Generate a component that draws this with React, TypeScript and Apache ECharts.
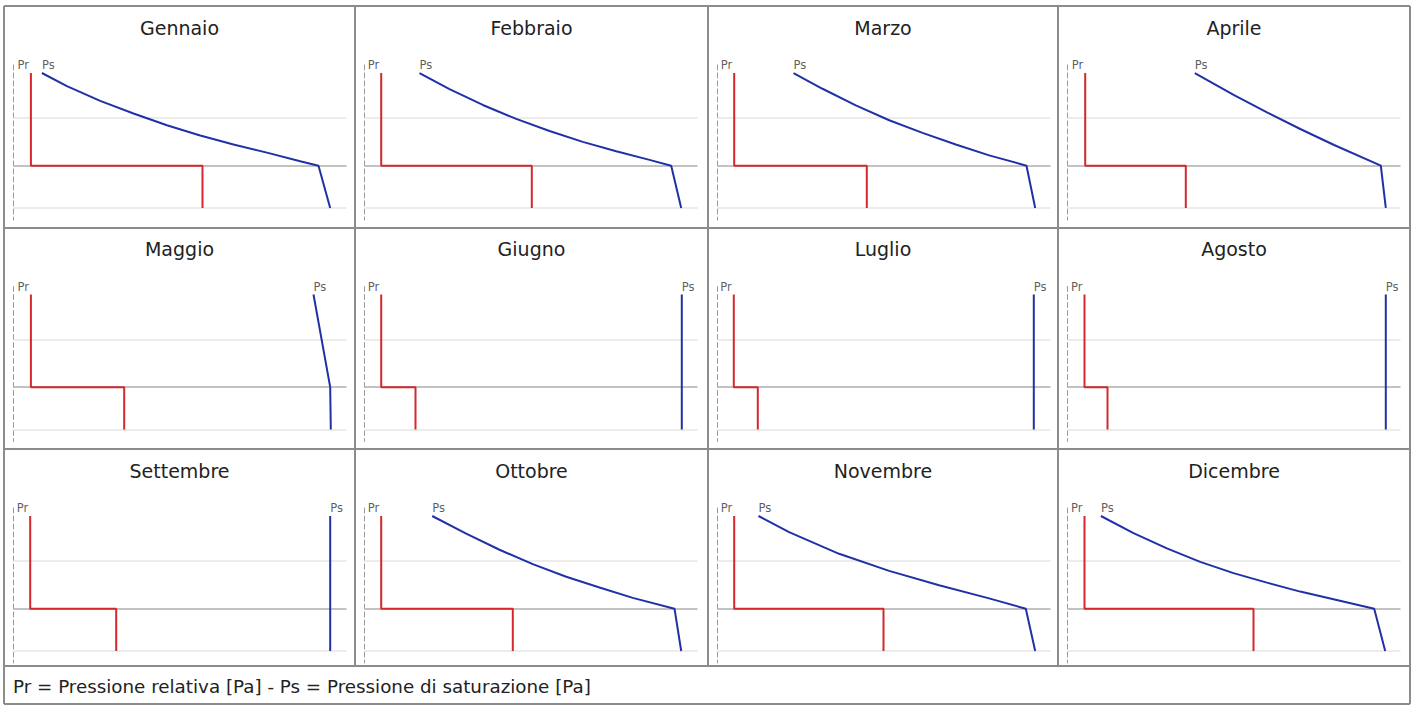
import React, { useEffect, useRef } from "react";
import * as echarts from "echarts";

// ---------- data (x: pressure, relative units; y: depth in the wall, cm) ----------
const months = [
  "Gennaio", "Febbraio", "Marzo", "Aprile",
  "Maggio", "Giugno", "Luglio", "Agosto",
  "Settembre", "Ottobre", "Novembre", "Dicembre",
];
const layerDepths = [0, 20.6, 30]; // exterior face, barrier interface, interior face
const gridDepths = [10, 20.6, 30];

// Pr: relative pressure, outer layer value and inner layer value
const prOuter = [17.4, 16.7, 16.7, 17.7, 17.4, 16.7, 16.3, 17, 16.7, 16.7, 16.7, 17];
const prInner = [189, 167.3, 149.3, 118.3, 110.7, 51, 40.3, 40, 102.7, 148.3, 166, 186];

// Ps: saturation pressure profiles [pressure, depth]
const psGennaio = [[28.4, 0], [53.4, 2.9], [86.7, 6.2], [120, 9.0], [153.4, 11.6], [186.7, 13.9], [220, 15.9], [253.4, 17.7], [286.7, 19.6], [305, 20.6], [316.7, 30]];
const psFebbraio = [[55, 0], [85, 3.6], [118.3, 7.1], [151.7, 10.2], [185, 12.9], [218.3, 15.3], [251.7, 17.4], [285, 19.3], [306.7, 20.6], [316.7, 30]];
const psMarzo = [[76, 0], [105, 3.5], [138.3, 7.2], [171.7, 10.5], [205, 13.3], [238.3, 15.9], [271.7, 18.3], [309, 20.6], [317.7, 30]];
const psAprile = [[127.3, 0], [166.6, 4.9], [200, 8.8], [233.3, 12.5], [266.6, 16.0], [313.3, 20.6], [318.3, 30]];
const psMaggio = [[300, 0], [316.7, 20.6], [317.3, 30]];
const psGiugno = [[317.3, 0], [317.3, 20.6], [317.3, 30]];
const psLuglio = [[316.3, 0], [316.3, 20.6], [316.3, 30]];
const psAgosto = [[318.3, 0], [318.3, 20.6], [318.3, 30]];
const psSettembre = [[316.7, 0], [316.7, 20.6], [316.7, 30]];
const psOttobre = [[67.7, 0], [101.7, 3.9], [135, 7.5], [168.3, 10.7], [201.7, 13.5], [235, 15.9], [268.3, 18.2], [310, 20.6], [316.7, 30]];
const psNovembre = [[41, 0], [71.6, 3.6], [121.6, 8.4], [171.6, 12.2], [221.6, 15.4], [271.6, 18.3], [308.3, 20.6], [317.7, 30]];
const psDicembre = [[33.4, 0], [66, 3.8], [99.4, 7.2], [132.7, 10.2], [166, 12.7], [199.4, 14.8], [232.7, 16.8], [266, 18.5], [306.7, 20.6], [317.7, 30]];
const psProfiles = [psGennaio, psFebbraio, psMarzo, psAprile, psMaggio, psGiugno, psLuglio, psAgosto, psSettembre, psOttobre, psNovembre, psDicembre];

const footerText = "Pr = Pressione relativa [Pa] - Ps = Pressione di saturazione [Pa]";

// ---------- layout ----------
const colX = [4, 355, 708, 1058, 1410];
const rowTop = [6, 227.5, 449];
const borderY = [6, 228, 449, 666, 704];
const FONT = "'DejaVu Sans', Verdana, sans-serif";
const RED = "#d3282c";
const BLUE = "#2230a8";
const BORDER = "#8c8c8c";

function buildOption() {
  const grid: any[] = [];
  const xAxis: any[] = [];
  const yAxis: any[] = [];
  const series: any[] = [];
  const graphic: any[] = [];

  months.forEach((m, i) => {
    const c = i % 4;
    const r = Math.floor(i / 4);
    const left = colX[c] + 9.5;
    const top = rowTop[r] + 59;
    grid.push({ left, top, width: 333, height: 155, containLabel: false });
    xAxis.push({ gridIndex: i, type: "value", min: 0, max: 333, show: false });
    yAxis.push({
      gridIndex: i,
      type: "value",
      inverse: true,
      min: -1.78,
      max: 32.67,
      axisLine: { show: true, lineStyle: { color: "#9a9a9a", width: 1, type: [5, 3] } },
      axisTick: { show: false },
      axisLabel: { show: false },
      splitLine: { show: false },
    });

    // horizontal reference lines
    series.push({
      type: "line",
      xAxisIndex: i,
      yAxisIndex: i,
      data: [[0, 0]],
      symbol: "none",
      lineStyle: { opacity: 0 },
      silent: true,
      z: 1,
      markLine: {
        silent: true,
        z: 1,
        symbol: "none",
        label: { show: false },
        data: gridDepths.map((d) => ({
          yAxis: d,
          lineStyle: { color: d === layerDepths[1] ? "#c2c2c2" : "#ececec", width: 2, type: "solid" },
        })),
      },
    });

    // Pr
    series.push({
      type: "line",
      xAxisIndex: i,
      yAxisIndex: i,
      symbol: "none",
      z: 8,
      silent: true,
      lineStyle: { color: RED, width: 2 },
      data: [
        [prOuter[i], layerDepths[0]],
        [prOuter[i], layerDepths[1]],
        [prInner[i], layerDepths[1]],
        [prInner[i], layerDepths[2]],
      ],
    });

    // Ps
    series.push({
      type: "line",
      xAxisIndex: i,
      yAxisIndex: i,
      symbol: "none",
      z: 8,
      silent: true,
      lineStyle: { color: BLUE, width: 2 },
      data: psProfiles[i],
    });

    // labels
    series.push({
      type: "scatter",
      xAxisIndex: i,
      yAxisIndex: i,
      silent: true,
      z: 9,
      symbolSize: 0,
      itemStyle: { color: "transparent" },
      label: {
        show: true,
        position: "top",
        distance: 2,
        color: "#333333",
        fontSize: 11.5,
        fontFamily: FONT,
      },
      data: [
        { value: [prOuter[i], 0], label: { formatter: "Pr", align: "right", offset: [-2, 0] } },
        { value: [psProfiles[i][0][0], 0], label: { formatter: "Ps", align: "left" } },
      ],
    });

    graphic.push({
      type: "text",
      x: (colX[c] + colX[c + 1]) / 2,
      y: rowTop[r] + 21.5,
      silent: true,
      style: {
        text: m,
        fill: "#222",
        font: `19px ${FONT}`,
        align: "center",
        verticalAlign: "middle",
        textAlign: "center",
        textVerticalAlign: "middle",
      },
    });
  });

  // table borders
  borderY.forEach((y) => {
    graphic.push({
      type: "line",
      silent: true,
      shape: { x1: colX[0], y1: y, x2: colX[4], y2: y },
      style: { stroke: BORDER, lineWidth: 2 },
    });
  });
  colX.forEach((x, k) => {
    const full = k === 0 || k === colX.length - 1;
    graphic.push({
      type: "line",
      silent: true,
      shape: { x1: x, y1: borderY[0], x2: x, y2: full ? borderY[4] : borderY[3] },
      style: { stroke: BORDER, lineWidth: 2 },
    });
  });

  graphic.push({
    type: "text",
    x: 13,
    y: 686,
    silent: true,
    style: {
      text: footerText,
      fill: "#222",
      font: `18.3px ${FONT}`,
      align: "left",
      verticalAlign: "middle",
      textAlign: "left",
      textVerticalAlign: "middle",
    },
  });

  return {
    animation: false,
    backgroundColor: "#ffffff",
    grid,
    xAxis,
    yAxis,
    series,
    graphic,
  };
}

export default function App() {
  const ref = useRef<HTMLDivElement>(null);
  useEffect(() => {
    if (!ref.current) return;
    const chart = echarts.init(ref.current, null, { renderer: "svg" });
    chart.setOption(buildOption() as any);
    return () => chart.dispose();
  }, []);
  return (
    <div
      ref={ref}
      style={{ position: "absolute", left: 0, top: 0, width: 1415, height: 706, background: "#fff" }}
    />
  );
}
